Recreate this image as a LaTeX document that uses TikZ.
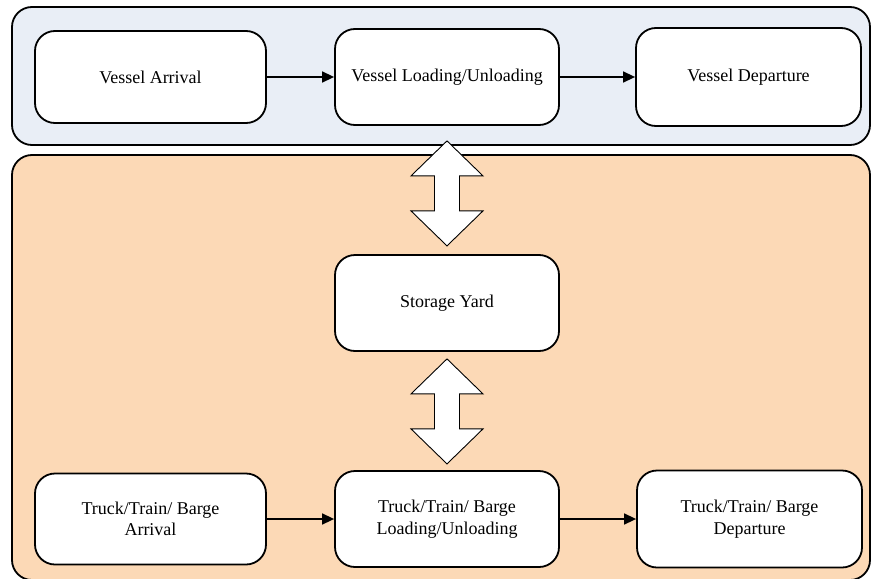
\documentclass[tikz,border=0pt]{standalone}
\usepackage{fontspec}
\setmainfont{Liberation Serif}
\usetikzlibrary{arrows.meta,calc}

\definecolor{seaside}{HTML}{E9EEF6}
\definecolor{landside}{HTML}{FCD9B6}

\tikzset{
  panel/.style={draw=black, line width=1.8pt, rounded corners=20pt},
  stage/.style={draw=black, fill=white, line width=1.8pt, rounded corners=20pt,
                align=center, inner sep=0pt,
                font=\fontsize{18}{21.5}\selectfont},
  flow/.style={line width=1.5pt, -{Triangle[length=12pt,width=11pt]}},
  transfer/.style={draw=black, fill=white, line width=0.9pt, line join=miter}
}

\begin{document}
\begin{tikzpicture}[x=1pt, y=-1pt]
  \clip (0,0) rectangle (872,578);

  % sea side and land side areas
  \draw[panel, fill=seaside] (12,7) rectangle (870,145);
  \draw[panel, fill=landside] (12,155) rectangle (870,580);

  % vessel stages
  \node[stage, minimum width=231pt, minimum height=92pt] (va) at (150.5,77) {Vessel Arrival};
  \node[stage, minimum width=224pt, minimum height=96pt] (vl) at (447,77) {Vessel Loading/Unloading};
  \node[stage, minimum width=225pt, minimum height=98pt] (vd) at (748.5,77) {Vessel Departure};

  % yard
  \node[stage, minimum width=224pt, minimum height=96pt] (sy) at (447,303) {Storage Yard};

  % hinterland stages
  \node[stage, minimum width=231pt, minimum height=91pt] (ta) at (150.5,519) {Truck/Train/ Barge\\Arrival};
  \node[stage, minimum width=224pt, minimum height=96pt] (tl) at (447,519) {Truck/Train/ Barge\\Loading/Unloading};
  \node[stage, minimum width=225pt, minimum height=97pt] (td) at (749.5,519) {Truck/Train/ Barge\\Departure};

  % process flow
  \draw[flow] (va) -- (vl);
  \draw[flow] (vl) -- (vd);
  \draw[flow] (ta) -- (tl);
  \draw[flow] (tl) -- (td);

  % two-way transfers between quay, yard and hinterland
  \draw[transfer] ($(vl.south)+(0,15)$) -- ++(36,35) -- ++(-23.5,0) -- ++(0,35)
     -- ++(23.5,0) -- ++(-36,35) -- ++(-36,-35) -- ++(23.5,0) -- ++(0,-35)
     -- ++(-23.5,0) -- cycle;
  \draw[transfer] ($(sy.south)+(0,7)$) -- ++(36,35) -- ++(-23.5,0) -- ++(0,35)
     -- ++(23.5,0) -- ++(-36,35) -- ++(-36,-35) -- ++(23.5,0) -- ++(0,-35)
     -- ++(-23.5,0) -- cycle;
\end{tikzpicture}
\end{document}
